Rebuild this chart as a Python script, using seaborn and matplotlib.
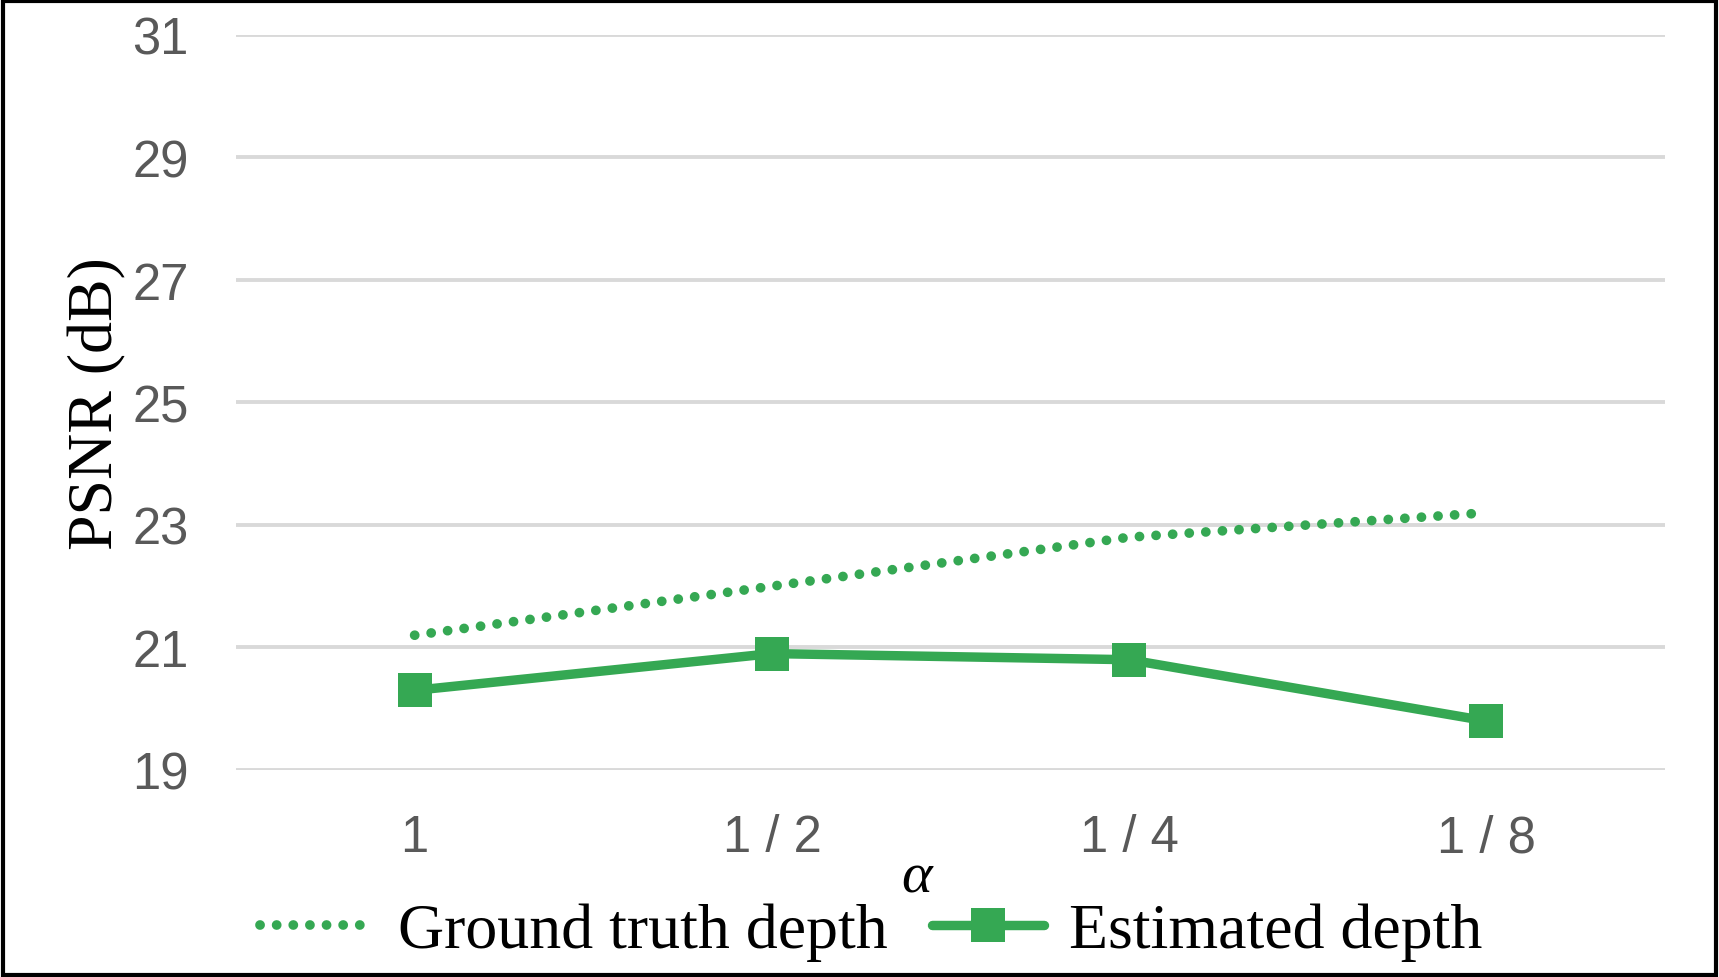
import numpy as np
import pandas as pd
import matplotlib
matplotlib.use('Agg')
import matplotlib.pyplot as plt
import seaborn as sns

# ── Data ─────────────────────────────────────────────
alphas = ['1', '1 / 2', '1 / 4', '1 / 8']
gt_psnr = [21.2, 22.0, 22.8, 23.2]
est_psnr = [20.3, 20.9, 20.8, 19.8]
yticks = [19, 21, 23, 25, 27, 29, 31]

green = '#35A853'

sns.set_style('white')
plt.rcParams['font.family'] = ['Liberation Sans', 'DejaVu Sans']

fig = plt.figure(figsize=(17.19, 9.78), dpi=100)
ax = fig.add_axes([0.1373, 0.2117, 0.8313, 0.7515])

df_gt = pd.DataFrame({'alpha': alphas, 'psnr': gt_psnr})
df_est = pd.DataFrame({'alpha': alphas, 'psnr': est_psnr})

sns.lineplot(data=df_gt, x='alpha', y='psnr', ax=ax, color=green,
             linewidth=7, linestyle=(0, (0.01, 1.7)),
             dash_capstyle='round', label='Ground truth depth', sort=False)
sns.lineplot(data=df_est, x='alpha', y='psnr', ax=ax, color=green,
             linewidth=6.8, marker='s', markersize=24.5, markeredgewidth=0,
             label='Estimated depth', sort=False)

ax.set_xlim(-0.5, 3.5)
ax.set_ylim(19, 31)
ax.set_yticks(yticks)
ax.grid(axis='y', color='#D9D9D9', linewidth=2.8)
ax.set_axisbelow(True)
for s in ax.spines.values():
    s.set_visible(False)
ax.tick_params(axis='both', length=0, labelsize=36.5, colors='#595959')
ax.tick_params(axis='y', pad=34)
ax.tick_params(axis='x', pad=31)

ax.set_ylabel('PSNR (dB)', fontsize=46, family='Liberation Serif', color='black')
ax.yaxis.set_label_coords(-0.077, 0.5)
ax.set_xlabel('')
fig.text(0.533, 0.087, 'α', fontsize=42, family='Liberation Serif',
         style='italic', ha='center', va='baseline', color='black')

ax.get_legend().remove()
handles, labels = ax.get_legend_handles_labels()
handles[1].set_solid_capstyle('round')
leg = fig.legend(handles, labels, loc='center', bbox_to_anchor=(0.507, 0.046),
                 ncol=2, frameon=False, prop={'family': 'Liberation Serif', 'size': 46},
                 handlelength=1.75, handletextpad=0.4, columnspacing=0.7,
                 borderaxespad=0, labelcolor='black')

# figure border
fig.patches.append(plt.Rectangle((0.0015, 0.0025), 0.997, 0.995, transform=fig.transFigure,
                                 fill=False, edgecolor='black', linewidth=3))

fig.savefig('out.png', dpi=100)
